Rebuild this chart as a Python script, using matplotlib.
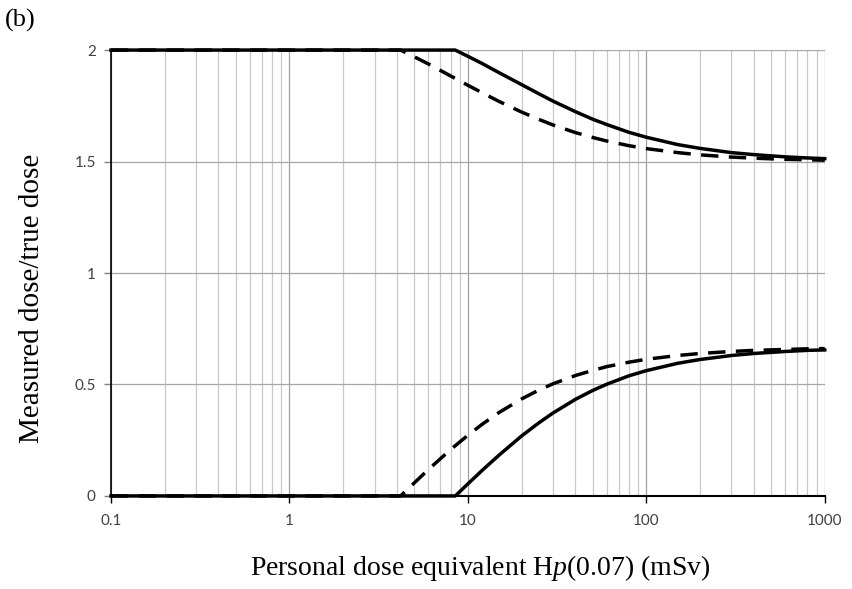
import matplotlib
matplotlib.use("Agg")
import matplotlib.pyplot as plt
from matplotlib.ticker import FixedLocator, LogLocator, NullFormatter

plt.rcParams["mathtext.fontset"] = "custom"
plt.rcParams["mathtext.rm"] = "Liberation Serif"
plt.rcParams["mathtext.it"] = "Liberation Serif:italic"

# values (two trumpet curves, solid and dashed)
solid_x = [0.1, 8.5, 10, 12, 15, 20, 25, 30, 40, 50, 60, 80, 100,
           150, 200, 300, 400, 600, 800, 1000]
solid_upper = [2.0, 2.0, 1.972, 1.940, 1.898, 1.845, 1.804, 1.771, 1.724,
               1.690, 1.666, 1.631, 1.609, 1.576, 1.559, 1.540, 1.531,
               1.521, 1.516, 1.513]
solid_lower = [0.0, 0.0, 0.054, 0.114, 0.184, 0.269, 0.328, 0.372, 0.433,
               0.473, 0.501, 0.539, 0.562, 0.595, 0.612, 0.630, 0.639,
               0.648, 0.653, 0.655]

dash_x = [0.1, 4.2, 5, 6, 8, 10, 12, 15, 20, 25, 30, 40, 50, 60, 80, 100,
          150, 200, 300, 400, 600, 800, 1000]
dash_upper = [2.0, 2.0, 1.970, 1.938, 1.884, 1.842, 1.809, 1.769, 1.722,
              1.689, 1.664, 1.630, 1.608, 1.592, 1.571, 1.558, 1.540,
              1.530, 1.520, 1.515, 1.510, 1.508, 1.506]
dash_lower = [0.0, 0.0, 0.058, 0.118, 0.208, 0.272, 0.321, 0.375, 0.435,
              0.475, 0.503, 0.540, 0.563, 0.580, 0.600, 0.613, 0.630,
              0.639, 0.648, 0.653, 0.657, 0.660, 0.661]

x_ticks = [0.1, 1, 10, 100, 1000]
x_labels = ["0.1", "1", "10", "100", "1000"]
y_ticks = [0, 0.5, 1, 1.5, 2]
y_labels = ["0", "0.5", "1", "1.5", "2"]

fig = plt.figure(figsize=(8.52, 5.89), dpi=100)
ax = fig.add_axes([0.1303, 0.158, 0.8377, 0.757])

ax.set_xscale("log")
ax.set_xlim(0.1, 1000)
ax.set_ylim(0, 2)

# grid
ax.xaxis.set_minor_locator(LogLocator(base=10, subs=range(2, 10)))
ax.xaxis.set_minor_formatter(NullFormatter())
ax.grid(which="minor", axis="x", color="#c8c8c8", linewidth=0.9)
ax.grid(which="major", axis="x", color="#a0a0a0", linewidth=0.9)
ax.grid(which="major", axis="y", color="#a6a6a6", linewidth=0.9)
ax.set_axisbelow(True)

# curves
ax.plot(dash_x, dash_upper, color="black", linewidth=2.5, dashes=(5, 3),
        clip_on=False, zorder=3)
ax.plot(dash_x, dash_lower, color="black", linewidth=2.5, dashes=(5, 3),
        clip_on=False, zorder=3)
ax.plot(solid_x, solid_upper, color="black", linewidth=2.5,
        clip_on=False, zorder=4)
ax.plot(solid_x, solid_lower, color="black", linewidth=2.5,
        clip_on=False, zorder=4)

# axes and ticks
ax.xaxis.set_major_locator(FixedLocator(x_ticks))
ax.set_xticklabels(x_labels)
ax.set_yticks(y_ticks)
ax.set_yticklabels(y_labels)
ax.tick_params(axis="x", which="major", length=5, width=1, color="black",
               labelsize=11, labelcolor="#404040", pad=8)
ax.tick_params(axis="x", which="minor", length=0)
ax.tick_params(axis="y", length=5, width=1, color="#808080",
               labelsize=11, labelcolor="#404040", pad=6)
for lab in ax.get_xticklabels() + ax.get_yticklabels():
    lab.set_family("Lato")

for side in ["top", "right"]:
    ax.spines[side].set_visible(False)
ax.spines["left"].set_color("black")
ax.spines["left"].set_linewidth(1.2)
ax.spines["bottom"].set_color("black")
ax.spines["bottom"].set_linewidth(1.5)

ax.set_xlabel(r"Personal dose equivalent H$\mathit{p}$(0.07) (mSv)",
              family="Liberation Serif", fontsize=20)
ax.xaxis.set_label_coords(0.517, -0.128)
ax.set_ylabel("Measured dose/true dose", family="Liberation Serif",
              fontsize=21)
ax.yaxis.set_label_coords(-0.093, 0.442)

fig.text(0.006, 0.955, "(b)", family="Liberation Serif", fontsize=19)

plt.savefig("out.png", dpi=100)
plt.close()
